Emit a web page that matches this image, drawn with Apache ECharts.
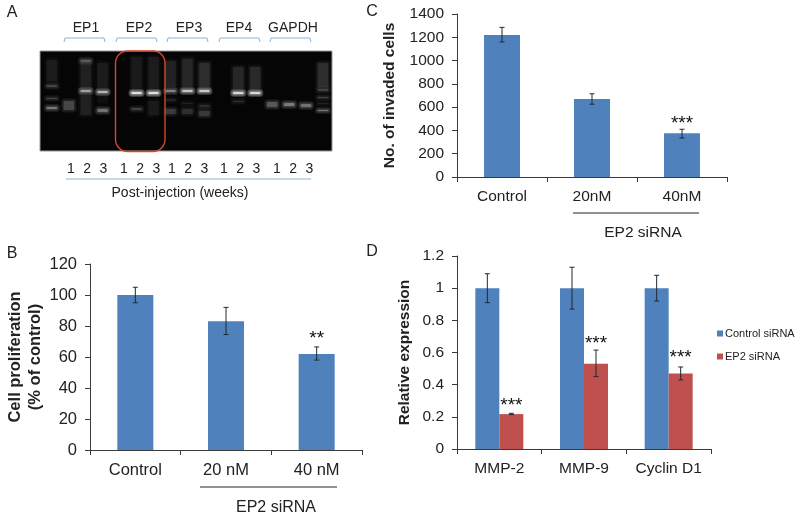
<!DOCTYPE html>
<html><head><meta charset="utf-8">
<style>html,body{margin:0;padding:0;background:#fff}#c{width:800px;height:518px}</style>
<script src="https://cdn.jsdelivr.net/npm/echarts@6/dist/echarts.min.js"></script>
</head><body><div id="c"></div>
<script>
// Panel A: gel bands as [lane, migrationFrom, migrationTo, brightness]
const gelBands = [
 [0,9,30,.08],[0,34,36,.22],[0,47,48,.22],[0,56,58,.42],
 [1,50,59,.22],
 [2,9,11,.22],[2,8,37,.09],[2,39,41,.6],[2,44,64,.09],
 [3,12,37,.08],[3,40,42,.7],[3,44,52,.04],[3,58,61,.38],
 [5,6,38,.07],[5,41,43,1],[5,57,59,.2],
 [6,6,38,.08],[6,41,43,1],[6,50,64,.07],
 [7,10,36,.1],[7,39,41,.45],[7,48,50,.1],[7,58,63,.18],
 [8,8,36,.11],[8,39,41,.8],[8,52,53,.1],[8,58,63,.14],
 [9,12,36,.13],[9,39,41,.85],[9,54,56,.13],[9,60,65,.17],
 [11,16,38,.11],[11,41,43,.95],[11,50,51,.14],
 [12,16,38,.12],[12,41,43,.95],
 [13,51,56,.28],[14,52,55,.42],[15,53,56,.38],
 [16,12,36,.13],[16,38,40,.2],[16,46,47,.2],[16,52,53,.1],[16,59,60,.4]
];
const gelHeaders = ['EP1','EP2','EP3','EP4','GAPDH'];
const laneLabels = ['1','2','3'];
const gelAxisTitle = 'Post-injection (weeks)';

// Panel B
const catsB = ['Control','20 nM','40 nM'];
const valsB = [100,83,62];
const lowB = [95,74.5,58];
const highB = [105,92,66.5];
const starsB = ['','','**'];
const starLevelB = [0,0,72];

// Panel C
const catsC = ['Control','20nM','40nM'];
const valsC = [1220,670,375];
const lowC = [1160,625,335];
const highC = [1285,715,410];
const starsC = ['','','***'];
const starLevelC = [0,0,460];

// Panel D
const catsD = ['MMP-2','MMP-9','Cyclin D1'];
const nameCtl = 'Control siRNA';
const nameEp2 = 'EP2 siRNA';
const valsCtl = [1,1,1];
const lowCtl = [.91,.87,.92];
const highCtl = [1.09,1.13,1.08];
const valsEp2 = [.217,.53,.47];
const lowEp2 = [.214,.45,.43];
const highEp2 = [.222,.615,.51];
const starsEp2 = ['***','***','***'];
const starLevelEp2 = [.27,.655,.57];

const FONT = '"Liberation Sans", Arial, sans-serif';
const INK = '#222';
const AX = '#3a3a3a';
const BLUE = '#4f81bd', RED = '#c0504d', PALE = '#8db2da';

function gridAxes(idx, cats, max, interval, name, nameGap, fs, nameSize){
  return {
    x:{type:'category',gridIndex:idx,data:cats,
       axisLine:{lineStyle:{color:AX}},axisTick:{show:true,length:5,lineStyle:{color:AX},alignWithLabel:false},
       axisLabel:{color:INK,fontFamily:FONT,fontSize:fs,margin:12,interval:0},splitLine:{show:false}},
    y:{type:'value',gridIndex:idx,min:0,max:max,interval:interval,
       name:name,nameLocation:'middle',nameRotate:90,nameGap:nameGap,
       nameTextStyle:{color:INK,fontFamily:FONT,fontSize:nameSize,fontWeight:'bold',lineHeight:20},
       axisLine:{show:true,lineStyle:{color:AX}},axisTick:{show:true,length:5,lineStyle:{color:AX}},
       axisLabel:{color:INK,fontFamily:FONT,fontSize:fs,margin:13,formatter:v=>String(v)},splitLine:{show:false}}
  };
}
const aB = gridAxes(1,catsB,120,20,'Cell proliferation\n(% of control)',44,16.5,16.5);
const aC = gridAxes(2,catsC,1400,200,'No. of invaded cells',57,15.5,15.5);
const aD = gridAxes(3,catsD,1.2,0.2,'Relative expression',42,15.5,15.5);

function errorSeries(xi, low, high, stars, levels, shift){
  return {
    type:'custom',xAxisIndex:xi,yAxisIndex:xi,z:5,silent:true,clip:false,
    encode:{x:0,y:[1,2]},
    data:low.map((l,i)=>[i,l,high[i],levels?levels[i]:0,stars?stars[i]:'']),
    renderItem(params,api){
      const i=api.value(0);
      const pl=api.coord([i,api.value(1)]), ph=api.coord([i,api.value(2)]);
      const x=pl[0]+shift, c=2.5;
      const st={stroke:'#1c2a33',lineWidth:1};
      const ch=[
        {type:'line',shape:{x1:x,y1:pl[1],x2:x,y2:ph[1]},style:st},
        {type:'line',shape:{x1:x-c,y1:pl[1],x2:x+c,y2:pl[1]},style:st},
        {type:'line',shape:{x1:x-c,y1:ph[1],x2:x+c,y2:ph[1]},style:st}
      ];
      const s=stars?stars[i]:'';
      if(s){
        const p=api.coord([i,api.value(3)]);
        ch.push({type:'text',style:{x:x,y:p[1],text:s,fill:'#111',font:'19px '+FONT,textAlign:'center',textVerticalAlign:'middle'}});
      }
      return {type:'group',children:ch};
    }
  };
}
function barSeries(xi,name,vals,color,w){
  return {type:'bar',name:name,xAxisIndex:xi,yAxisIndex:xi,data:vals,barWidth:w,barGap:'0%',
          itemStyle:{color:color},silent:true,z:2};
}

const gfx=[];
function txt(x,y,t,size,extra){
  gfx.push(Object.assign({type:'text',silent:true,style:{x:x,y:y,text:t,fill:INK,font:size+'px '+FONT,
    textAlign:'center',textVerticalAlign:'middle'}},extra||{}));
}
function ln(x1,y1,x2,y2,color,w){
  gfx.push({type:'line',silent:true,shape:{x1,y1,x2,y2},style:{stroke:color,lineWidth:w||1}});
}
// Panel letters
txt(12,13,'A',16);txt(12,254,'B',16);txt(372,12,'C',16);txt(372,252,'D',16);
// Gel headers, brackets and lane numbers
const hdrX=[86,139,189,239,293];
const brX=[64,116,167,219,270];
const numX=[71,124,172,224,277];
gelHeaders.forEach((h,i)=>{
  txt(hdrX[i],28,h,14);
  gfx.push({type:'polyline',silent:true,shape:{points:[[brX[i],42],[brX[i]+1,38],[brX[i]+40,38],[brX[i]+41,42]]},
    style:{stroke:PALE,lineWidth:1,fill:null}});
  laneLabels.forEach((n,j)=>txt(numX[i]+j*16.2,169,n,14));
});
ln(66,179,311,179,PALE,1);
txt(180,193,gelAxisTitle,14);
// Highlight box
gfx.push({type:'rect',silent:true,z:20,shape:{x:115.5,y:51,width:49.5,height:100.5,r:12},
  style:{stroke:'#d8452b',lineWidth:1.4,fill:null}});
// Group annotation B and C
ln(200,487,337,487,'#222',1);txt(276,508,'EP2 siRNA',16);
ln(573,213,699,213,'#222',1);txt(643,233,'EP2 siRNA',15.5);

const option={
  animation:false,backgroundColor:'#fff',
  grid:[
    {left:40,top:51,width:292,height:100,show:true,backgroundColor:'#050505',borderColor:'#9a9a9a',borderWidth:1,outerBoundsMode:'none'},
    {left:90,top:264,width:272,height:186,outerBoundsMode:'none'},
    {left:457,top:14,width:270,height:163,outerBoundsMode:'none'},
    {left:457,top:256,width:254,height:193,outerBoundsMode:'none'}
  ],
  xAxis:[
    {type:'value',gridIndex:0,min:-0.7,max:16.53,show:false},
    aB.x,aC.x,aD.x
  ],
  yAxis:[
    {type:'value',gridIndex:0,min:0,max:100,inverse:true,show:false},
    aB.y,aC.y,aD.y
  ],
  legend:{show:true,data:[nameCtl,nameEp2],orient:'vertical',left:717,top:328,itemWidth:6,itemHeight:6,itemGap:12,
    icon:'rect',padding:0,textStyle:{color:INK,fontFamily:FONT,fontSize:11,padding:[0,0,0,-3]},selectedMode:false},
  graphic:{elements:gfx},
  series:[
    {type:'custom',xAxisIndex:0,yAxisIndex:0,silent:true,clip:true,z:3,
     encode:{x:0,y:[1,2]},data:gelBands,
     renderItem(params,api){
       const a=api.coord([api.value(0),api.value(1)]), b=api.coord([api.value(0),api.value(2)]);
       const w=api.size([0.62,0])[0], br=api.value(3), ch=[];
       // stacked soft layers give the glow of a stained band
       for(let k=3;k>=0;k--){
         ch.push({type:'rect',shape:{x:a[0]-w/2-k,y:a[1]-k,width:w+2*k,height:b[1]-a[1]+2*k,r:k+1},
           style:{fill:'rgba(255,255,255,'+(br*(k===0?.75:.2))+')'}});
       }
       return {type:'group',children:ch};
     }},
    barSeries(1,'Proliferation',valsB,BLUE,36),
    errorSeries(1,lowB,highB,starsB,starLevelB,0),
    barSeries(2,'Invaded',valsC,BLUE,36),
    errorSeries(2,lowC,highC,starsC,starLevelC,0),
    barSeries(3,nameCtl,valsCtl,BLUE,24),
    barSeries(3,nameEp2,valsEp2,RED,24),
    errorSeries(3,lowCtl,highCtl,null,null,-12),
    errorSeries(3,lowEp2,highEp2,starsEp2,starLevelEp2,12)
  ]
};
echarts.init(document.getElementById('c'),null,{renderer:'canvas'}).setOption(option);
</script></body></html>
